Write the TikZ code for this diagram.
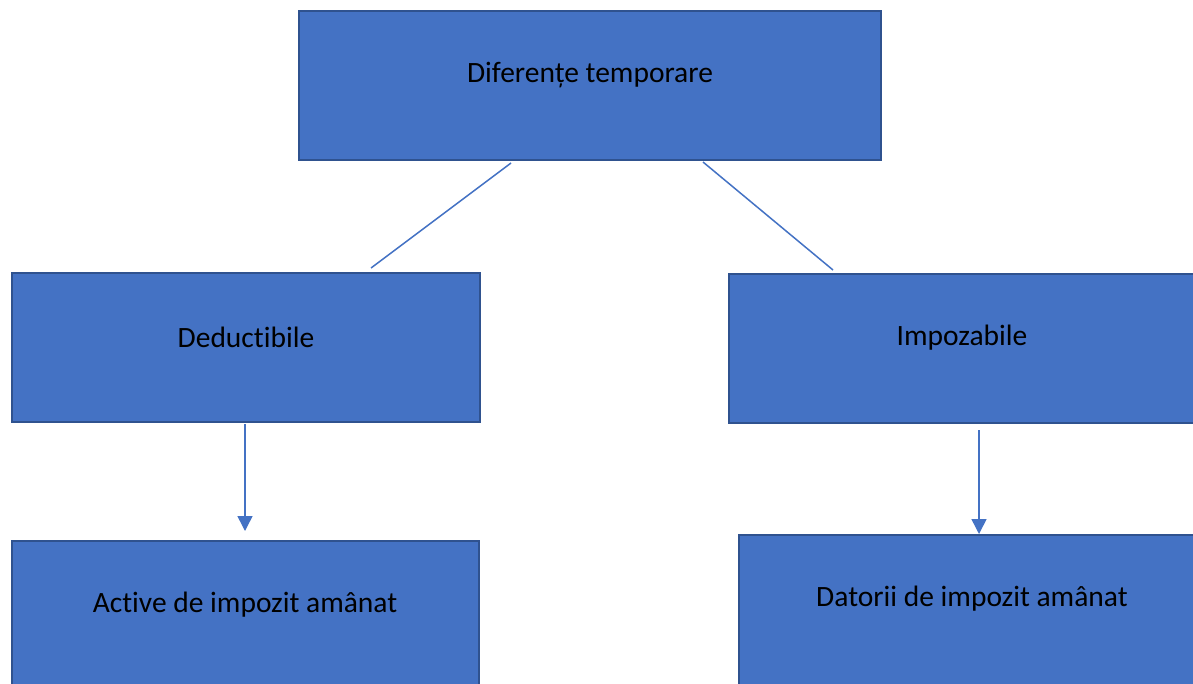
\documentclass[tikz,border=0pt]{standalone}
\usepackage{fontspec}
\setmainfont{Carlito}[Ligatures={NoCommon}]
\usetikzlibrary{arrows.meta}
\definecolor{boxfill}{HTML}{4472C4}
\definecolor{boxline}{HTML}{2F528F}
\begin{document}
\begin{tikzpicture}[x=1pt,y=-1pt,
  box/.style={draw=boxline,line width=2pt,fill=boxfill},
  lbl/.style={font=\fontsize{29.5}{34}\selectfont,text=black,inner sep=0pt},
  conn/.style={draw=boxfill,line width=1.5pt},
  arr/.style={conn,-{Triangle[width=15pt,length=15pt]}}]
\useasboundingbox (0,0) rectangle (1193,683);
\clip (0,0) rectangle (1193,683);
\fill[white] (0,0) rectangle (1193,683);
% boxes
\draw[box] (299,11) rectangle (881,160);
\draw[box] (12,273) rectangle (480,422);
\draw[box] (729,274) rectangle (1210,423);
\draw[box] (12,541) rectangle (479,700);
\draw[box] (739,535) rectangle (1210,700);
% labels
\node[lbl] (t) at (590,75) {Diferențe temporare};
\node[lbl] (d) at (246,337) {Deductibile};
\node[lbl] (i) at (962,338) {Impozabile};
\node[lbl] (a) at (245,605) {Active de impozit amânat};
\node[lbl] (p) at (972,599) {Datorii de impozit amânat};
% connector end points
\coordinate (c1) at (511,163);
\coordinate (c2) at (371,268);
\coordinate (c3) at (703,162);
\coordinate (c4) at (833,270);
\coordinate (c5) at (245,424);
\coordinate (c6) at (245,531);
\coordinate (c7) at (979,430);
\coordinate (c8) at (979,534);
\draw[conn] (c1) -- (c2);
\draw[conn] (c3) -- (c4);
\draw[arr] (c5) -- (c6);
\draw[arr] (c7) -- (c8);
\end{tikzpicture}
\end{document}
